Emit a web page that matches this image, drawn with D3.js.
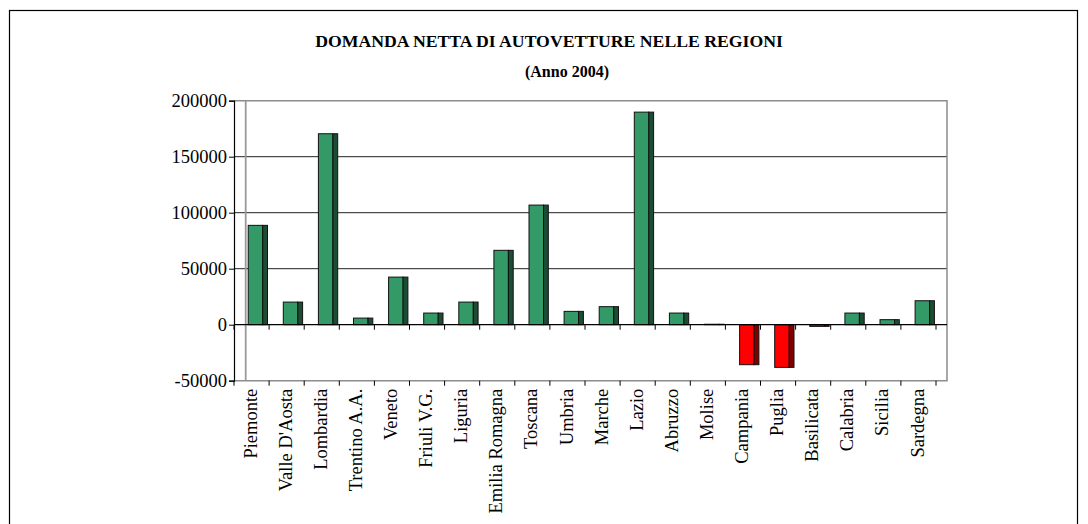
<!DOCTYPE html>
<html>
<head>
<meta charset="utf-8">
<script src="https://cdn.jsdelivr.net/npm/d3@7"></script>
<style>
  body { margin: 0; background: #fff; }
  text { font-family: 'Liberation Serif', 'Times New Roman', serif; }
</style>
</head>
<body>
<div id="chart"></div>
<script>
// data
let regions = ['Piemonte', "Valle D'Aosta", 'Lombardia', 'Trentino A.A.', 'Veneto', 'Friuli V.G.',
  'Liguria', 'Emilia Romagna', 'Toscana', 'Umbria', 'Marche', 'Lazio', 'Abruzzo', 'Molise',
  'Campania', 'Puglia', 'Basilicata', 'Calabria', 'Sicilia', 'Sardegna']
let domanda = [88700, 20200, 170500, 5900, 42500, 10400, 20200, 66400, 106800, 11900,
  16100, 189800, 10400, 400, -35700, -38100, -1500, 10400, 4500, 21400]
let yTicks = [-50000, 0, 50000, 100000, 150000, 200000]
let titleText = 'DOMANDA NETTA DI AUTOVETTURE NELLE REGIONI'
let subTitleText = '(Anno 2004)'

var width = 1088
var height = 524
var plotLeft = 234
var axisRight = 936
var plotRight = 947
var plotTop = 100.7
var plotBottom = 380.7

var svg = d3.select('#chart')
  .append('svg')
  .attr('width', width)
  .attr('height', height)

// outer frame
svg.append('rect')
  .attr('x', 9.5).attr('y', 10.5)
  .attr('width', 1068).attr('height', 530)
  .attr('fill', 'none')
  .attr('stroke', '#000')
  .attr('stroke-width', 1.2)

var x = d3.scaleBand()
  .domain(regions)
  .range([plotLeft, axisRight])

var y = d3.scaleLinear()
  .domain([-50000, 200000])
  .range([plotBottom, plotTop])

// gridlines
svg.selectAll('line.grid')
  .data([50000, 100000, 150000])
  .enter().append('line')
  .attr('class', 'grid')
  .attr('x1', plotLeft).attr('x2', plotRight)
  .attr('y1', d => y(d)).attr('y2', d => y(d))
  .attr('stroke', '#222')
  .attr('stroke-width', 1)

// plot border (grey)
svg.append('path')
  .attr('d', `M${plotLeft},${y(200000)}H${plotRight}V${plotBottom}H${plotLeft}`)
  .attr('fill', 'none')
  .attr('stroke', '#8c8c8c')
  .attr('stroke-width', 1.5)

// back wall edge
svg.append('line')
  .attr('x1', 245.7).attr('x2', 245.7)
  .attr('y1', plotTop).attr('y2', plotBottom)
  .attr('stroke', '#999')
  .attr('stroke-width', 1.8)

// bars
var frontW = 14.5
var sideW = 4.8
var off = 14.2
var bars = svg.selectAll('g.bar')
  .data(regions.map((r, i) => ({ region: r, value: domanda[i] })))
  .enter().append('g')
  .attr('class', 'bar')

bars.append('rect')
  .attr('x', d => x(d.region) + off)
  .attr('y', d => Math.min(y(d.value), y(0)))
  .attr('width', frontW)
  .attr('height', d => Math.abs(y(d.value) - y(0)))
  .attr('fill', d => d.value < 0 ? '#ff0000' : '#339966')
  .attr('stroke', '#111')
  .attr('stroke-width', 1)

bars.append('rect')
  .attr('x', d => x(d.region) + off + frontW)
  .attr('y', d => Math.min(y(d.value), y(0)))
  .attr('width', sideW)
  .attr('height', d => Math.abs(y(d.value) - y(0)))
  .attr('fill', d => d.value < 0 ? '#800000' : '#1a4d33')
  .attr('stroke', '#111')
  .attr('stroke-width', 1)

// zero line with category ticks
svg.append('line')
  .attr('x1', plotLeft).attr('x2', plotRight)
  .attr('y1', y(0)).attr('y2', y(0))
  .attr('stroke', '#000')
  .attr('stroke-width', 1.2)

var tickXs = regions.map(r => x(r)).concat([axisRight])
svg.selectAll('line.ztick')
  .data(tickXs)
  .enter().append('line')
  .attr('class', 'ztick')
  .attr('x1', d => d).attr('x2', d => d)
  .attr('y1', y(0)).attr('y2', y(0) + 5)
  .attr('stroke', '#000')

// bottom category ticks
svg.selectAll('line.btick')
  .data(tickXs)
  .enter().append('line')
  .attr('class', 'btick')
  .attr('x1', d => d).attr('x2', d => d)
  .attr('y1', plotBottom).attr('y2', plotBottom + 5)
  .attr('stroke', '#000')

svg.selectAll('text.cat')
  .data(regions)
  .enter().append('text')
  .attr('class', 'cat')
  .attr('transform', d => `translate(${x(d) + x.bandwidth() / 2 - 1},${plotBottom + 8}) rotate(-90)`)
  .attr('dy', '0.33em')
  .attr('text-anchor', 'end')
  .attr('font-size', '18.5px')
  .attr('fill', '#000')
  .text(d => d)

// value axis
var yAxis = svg.append('g')
  .attr('transform', `translate(${plotLeft},0)`)
  .call(d3.axisLeft(y).tickValues(yTicks).tickSize(5).tickPadding(2).tickFormat(d => String(d)))
yAxis.select('.domain').attr('stroke', '#000').attr('stroke-width', 1.2)
yAxis.selectAll('text')
  .attr('font-family', "'Liberation Serif', 'Times New Roman', serif")
  .attr('font-size', '18.5px')
  .attr('fill', '#000')

// titles
svg.append('text')
  .attr('x', 549).attr('y', 47)
  .attr('text-anchor', 'middle')
  .attr('font-weight', 'bold')
  .attr('font-size', '17.7px')
  .text(titleText)

svg.append('text')
  .attr('x', 567).attr('y', 77)
  .attr('text-anchor', 'middle')
  .attr('font-weight', 'bold')
  .attr('font-size', '16px')
  .text(subTitleText)
</script>
</body>
</html>
